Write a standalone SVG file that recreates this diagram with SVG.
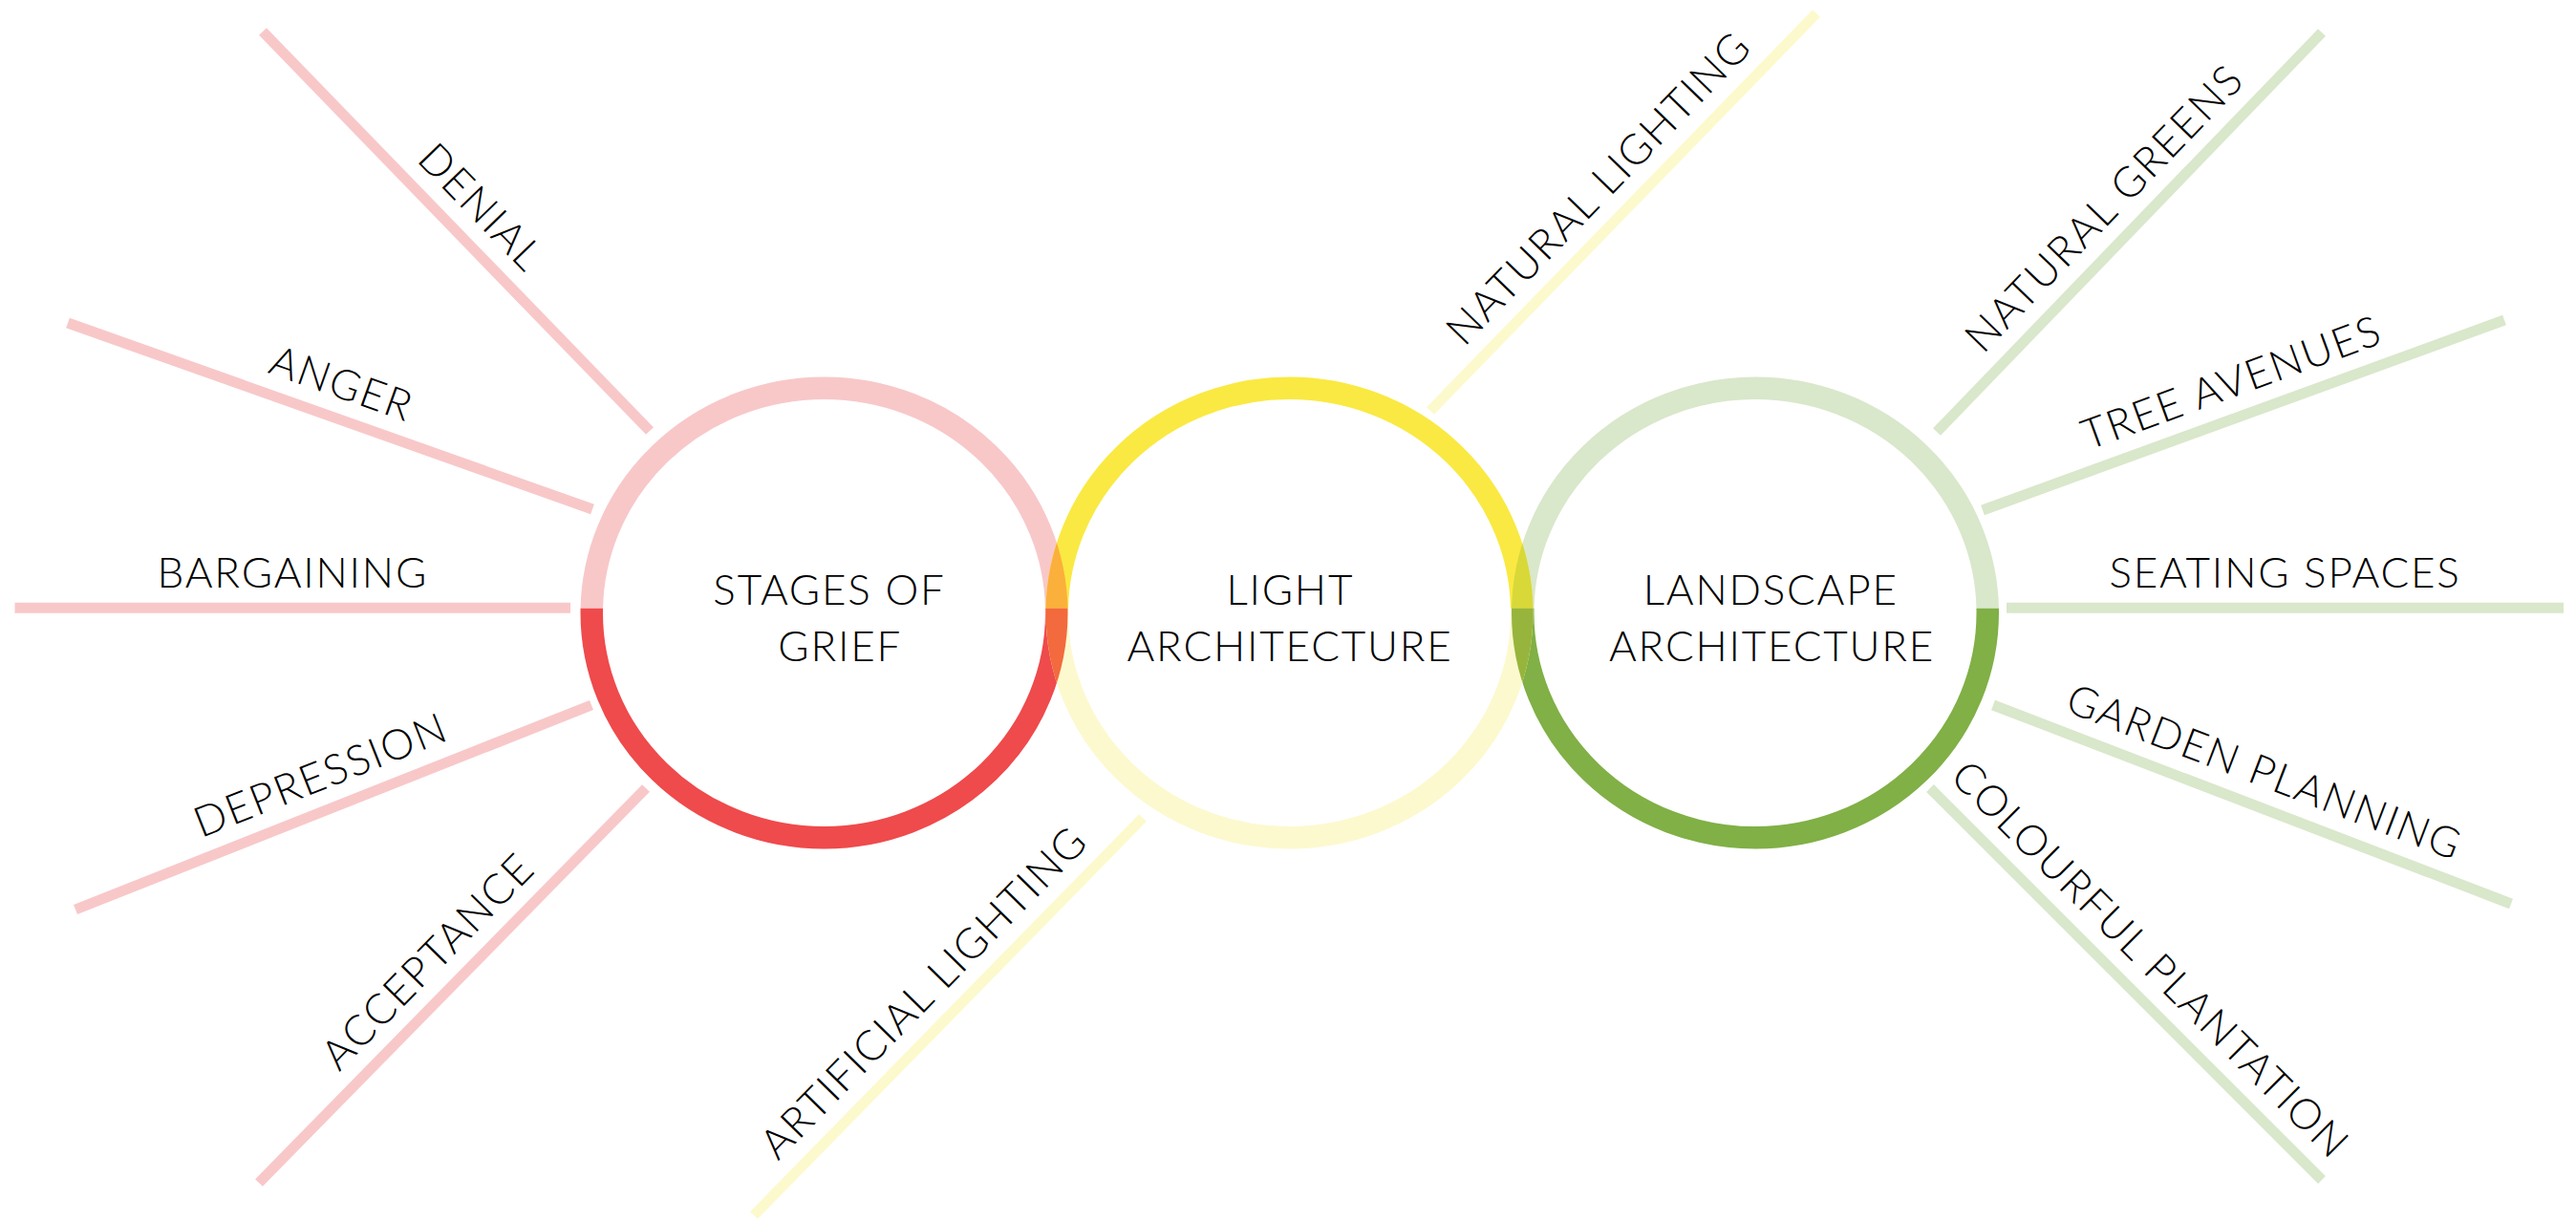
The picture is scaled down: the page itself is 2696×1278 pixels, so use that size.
<svg xmlns="http://www.w3.org/2000/svg" width="2696" height="1278" viewBox="0 0 2696 1278">
<style>
.lbl{font-family:Lato,"Liberation Sans",sans-serif;font-size:44px;font-weight:300;fill:#000;text-anchor:middle;letter-spacing:1.8px}
.ln{fill:none;stroke-width:11;stroke-linecap:butt}
.pk{stroke:#F8C8C9}
.yl{stroke:#FCF9CC}
.gr{stroke:#D9E7CB}
.ring{fill:none;stroke-width:23.5}
</style>
<defs>
<clipPath id="top"><rect x="0" y="0" width="2696" height="636.7"/></clipPath>
<clipPath id="bot"><rect x="0" y="636.7" width="2696" height="700"/></clipPath>
<mask id="m1" maskUnits="userSpaceOnUse" x="0" y="0" width="2696" height="1278"><ellipse cx="862.5" cy="641.5" rx="243.25" ry="235.25" fill="none" stroke="#fff" stroke-width="23.5"/></mask>
<mask id="m3" maskUnits="userSpaceOnUse" x="0" y="0" width="2696" height="1278"><ellipse cx="1837" cy="641.5" rx="243.25" ry="235.25" fill="none" stroke="#fff" stroke-width="23.5"/></mask>
</defs>
<rect width="2696" height="1278" fill="#fff"/>
<g id="connectors">
<line class="ln pk" x1="275" y1="33" x2="680" y2="451"/>
<line class="ln pk" x1="71" y1="338" x2="620" y2="533"/>
<line class="ln pk" x1="15.5" y1="636.3" x2="597" y2="636.3"/>
<line class="ln pk" x1="79" y1="952" x2="619" y2="738"/>
<line class="ln pk" x1="271" y1="1238" x2="676" y2="825"/>
<line class="ln yl" x1="789" y1="1272" x2="1196" y2="856"/>
<line class="ln yl" x1="1497" y1="430" x2="1901" y2="14"/>
<line class="ln gr" x1="2027" y1="452" x2="2430" y2="34"/>
<line class="ln gr" x1="2075" y1="534" x2="2621" y2="335"/>
<line class="ln gr" x1="2100" y1="636.3" x2="2683" y2="636.3"/>
<line class="ln gr" x1="2086" y1="738" x2="2628" y2="946"/>
<line class="ln gr" x1="2020" y1="825" x2="2430" y2="1235"/>
</g>
<g id="stages-of-grief">
<ellipse class="ring" cx="862.5" cy="641.5" rx="243.25" ry="235.25" stroke="#F8C8C9" clip-path="url(#top)"/>
<ellipse class="ring" cx="862.5" cy="641.5" rx="243.25" ry="235.25" stroke="#EF4A4C" clip-path="url(#bot)"/>
<text class="lbl" x="868" y="633.3">STAGES OF</text>
<text class="lbl" x="879.2" y="691.7">GRIEF</text>
</g>
<g id="landscape-architecture">
<ellipse class="ring" cx="1837" cy="641.5" rx="243.25" ry="235.25" stroke="#D9E7CB" clip-path="url(#top)"/>
<ellipse class="ring" cx="1837" cy="641.5" rx="243.25" ry="235.25" stroke="#80B046" clip-path="url(#bot)"/>
<text class="lbl" x="1853.3" y="633.3">LANDSCAPE</text>
<text class="lbl" x="1854.5" y="691.7">ARCHITECTURE</text>
</g>
<g id="light-architecture">
<ellipse class="ring" cx="1349.5" cy="641.5" rx="243.25" ry="235.25" stroke="#FAE942" clip-path="url(#top)"/>
<ellipse class="ring" cx="1349.5" cy="641.5" rx="243.25" ry="235.25" stroke="#FCF9CF" clip-path="url(#bot)"/>
<g clip-path="url(#top)">
<ellipse class="ring" cx="1349.5" cy="641.5" rx="243.25" ry="235.25" stroke="#FBB03B" mask="url(#m1)"/>
<ellipse class="ring" cx="1349.5" cy="641.5" rx="243.25" ry="235.25" stroke="#D8D839" mask="url(#m3)"/>
</g>
<g clip-path="url(#bot)">
<ellipse class="ring" cx="1349.5" cy="641.5" rx="243.25" ry="235.25" stroke="#F26A3D" mask="url(#m1)"/>
<ellipse class="ring" cx="1349.5" cy="641.5" rx="243.25" ry="235.25" stroke="#97B53C" mask="url(#m3)"/>
</g>
<text class="lbl" x="1350.3" y="633.3">LIGHT</text>
<text class="lbl" x="1350" y="691.7">ARCHITECTURE</text>
</g>
<g id="labels">
<text class="lbl" transform="translate(477.5 242) rotate(45.9)" y="-21">DENIAL</text>
<text class="lbl" transform="translate(345.5 435.5) rotate(19.56)" y="-21">ANGER</text>
<text class="lbl" transform="translate(306.25 636.3)" y="-21.3">BARGAINING</text>
<text class="lbl" transform="translate(349 845) rotate(-21.62)" y="-21">DEPRESSION</text>
<text class="lbl" transform="translate(473.5 1031.5) rotate(-45.56)" y="-21">ACCEPTANCE</text>
<text class="lbl" transform="translate(992.5 1064) rotate(-45.55)" y="-21">ARTIFICIAL LIGHTING</text>
<text class="lbl" transform="translate(1699 222) rotate(-45.9)" y="-21">NATURAL LIGHTING</text>
<text class="lbl" transform="translate(2228.5 243) rotate(-46.04)" y="-21">NATURAL GREENS</text>
<text class="lbl" transform="translate(2348 434.5) rotate(-20.02)" y="-21">TREE AVENUES</text>
<text class="lbl" transform="translate(2391.5 636.3)" y="-21.3">SEATING SPACES</text>
<text class="lbl" transform="translate(2357 842) rotate(21)" y="-21">GARDEN PLANNING</text>
<text class="lbl" transform="translate(2225 1030) rotate(45)" y="-21">COLOURFUL PLANTATION</text>
</g>
</svg>
